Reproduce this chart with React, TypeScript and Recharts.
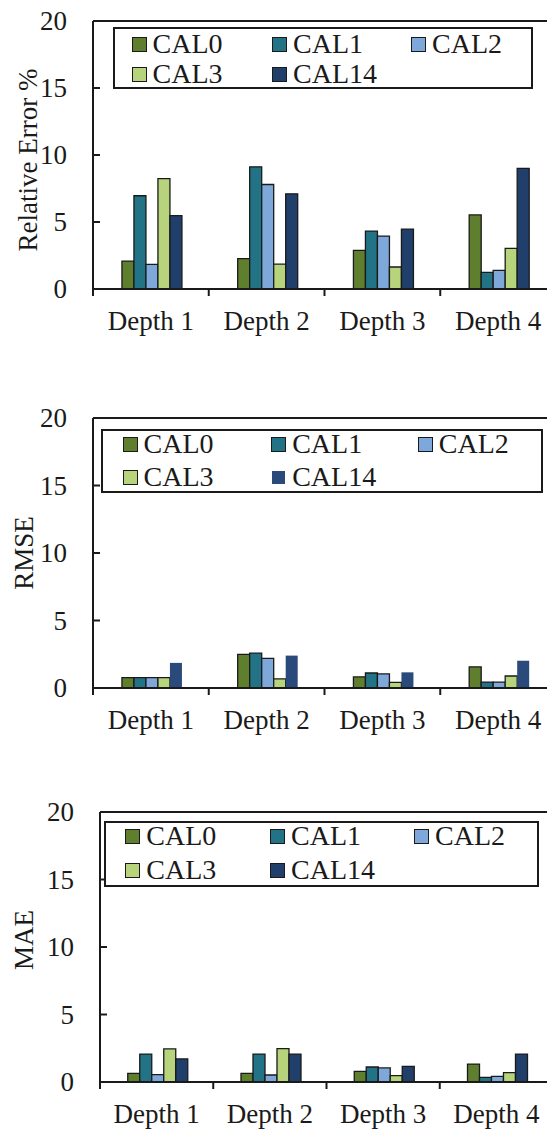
import React from 'react';
import { BarChart, Bar, XAxis, YAxis, Legend, ReferenceLine, Label } from 'recharts';

const categories = ['Depth 1', 'Depth 2', 'Depth 3', 'Depth 4'];
const seriesNames = ['CAL0', 'CAL1', 'CAL2', 'CAL3', 'CAL14'];
const seriesColors = ['#5f7f2f', '#237386', '#7ea8da', '#b7d47d', '#213f6b'];
const yTicks = [0, 5, 10, 15, 20];

// Relative Error %
const relCAL0 = [2.08, 2.26, 2.88, 5.53];
const relCAL1 = [6.96, 9.12, 4.32, 1.24];
const relCAL2 = [1.84, 7.8, 3.95, 1.39];
const relCAL3 = [8.24, 1.85, 1.64, 3.03];
const relCAL14 = [5.47, 7.1, 4.47, 9.0];

// RMSE
const rmseCAL0 = [0.77, 2.49, 0.82, 1.57];
const rmseCAL1 = [0.77, 2.58, 1.11, 0.44];
const rmseCAL2 = [0.77, 2.2, 1.04, 0.44];
const rmseCAL3 = [0.77, 0.68, 0.42, 0.89];
const rmseCAL14 = [1.86, 2.4, 1.16, 2.02];

// MAE
const maeCAL0 = [0.64, 0.64, 0.79, 1.33];
const maeCAL1 = [2.07, 2.07, 1.11, 0.35];
const maeCAL2 = [0.55, 0.52, 1.04, 0.42];
const maeCAL3 = [2.45, 2.47, 0.47, 0.69];
const maeCAL14 = [1.71, 2.07, 1.16, 2.07];

const FONT = '"Liberation Serif", "Times New Roman", serif';
const INK = '#1a1a1a';

function buildRows(values: number[][]) {
  return categories.map((c, i) => {
    const row: Record<string, any> = { category: c };
    seriesNames.forEach((s, j) => {
      row[s] = values[j][i];
    });
    return row;
  });
}

type PanelCfg = {
  top: number;
  height: number;
  yAxisWidth: number;
  marginTop: number;
  marginRight: number;
  xAxisHeight: number;
  band: number;
  gap: string;
  title: string;
  titleX: number;
  titleY: number;
  legend: { left: number; top: number; width: number; height: number; cols: number[]; rows: number[] };
  noStroke: string[];
  data: Record<string, any>[];
};

const W = 560;

function Panel({ cfg }: { cfg: PanelCfg }) {
  const YTick = (props: any) => {
    const { x, y, payload } = props;
    return (
      <g>
        <text x={x} y={y} dy="0.35em" textAnchor="end" fill={INK} style={{ fontFamily: FONT, fontSize: 27 }}>
          {payload.value}
        </text>
        <line x1={x + 26} x2={x + 33} y1={y} y2={y} stroke={INK} strokeWidth={2} />
      </g>
    );
  };
  const XTick = (props: any) => {
    const { x, y, payload } = props;
    const bx = x - cfg.band / 2;
    return (
      <g>
        <line x1={bx} x2={bx} y1={y - 22} y2={y - 15} stroke={INK} strokeWidth={2} />
        <text x={x} y={y} dy="0.71em" textAnchor="middle" fill={INK} style={{ fontFamily: FONT, fontSize: 27 }}>
          {payload.value}
        </text>
      </g>
    );
  };
  const lg = cfg.legend;
  const renderLegend = (props: any) => {
    const raw = props.payload || [];
    const payload = seriesNames
      .map((n) => raw.find((p: any) => String(p.value) === n))
      .filter(Boolean);
    return (
      <div
        style={{
          position: 'relative',
          width: lg.width,
          height: lg.height,
          border: `2px solid ${INK}`,
          boxSizing: 'border-box',
          background: '#fff',
          fontFamily: FONT,
        }}
      >
        {payload.map((p: any, i: number) => {
          const col = i % 3;
          const row = Math.floor(i / 3);
          const noStroke = cfg.noStroke.includes(String(p.value));
          const size = noStroke ? 13 : 15;
          return (
            <div
              key={i}
              style={{
                position: 'absolute',
                left: lg.cols[col] - 2,
                top: lg.rows[row] - 2 - 17,
                height: 34,
                display: 'flex',
                alignItems: 'center',
                whiteSpace: 'nowrap',
              }}
            >
              <div
                style={{
                  width: size,
                  height: size,
                  background: p.color,
                  border: noStroke ? 'none' : `1.5px solid ${INK}`,
                  boxSizing: 'border-box',
                  marginLeft: noStroke ? 1 : 0,
                  marginRight: noStroke ? 7 : 6,
                }}
              />
              <span style={{ fontSize: 28, color: INK, lineHeight: '34px', fontFamily: FONT }}>{p.value}</span>
            </div>
          );
        })}
      </div>
    );
  };

  return (
    <div style={{ position: 'absolute', left: 0, top: cfg.top, width: W, height: cfg.height }}>
      <BarChart
        width={W}
        height={cfg.height}
        data={cfg.data}
        margin={{ top: cfg.marginTop, right: cfg.marginRight, left: 0, bottom: 0 }}
        barCategoryGap={cfg.gap}
        barGap={0}
      >
        <XAxis
          dataKey="category"
          height={cfg.xAxisHeight}
          axisLine={{ stroke: INK, strokeWidth: 2 }}
          tickLine={false}
          tickSize={0}
          tickMargin={22}
          tick={XTick}
          interval={0}
        />
        <YAxis
          width={cfg.yAxisWidth}
          domain={[0, 20]}
          ticks={yTicks}
          interval={0}
          axisLine={{ stroke: INK, strokeWidth: 2 }}
          tickLine={false}
          tickSize={0}
          tickMargin={26}
          tick={YTick}
        >
          <Label
            content={() => (
              <text
                x={cfg.titleX}
                y={cfg.titleY}
                transform={`rotate(-90, ${cfg.titleX}, ${cfg.titleY})`}
                textAnchor="middle"
                dominantBaseline="central"
                fill={INK}
                style={{ fontFamily: FONT, fontSize: 27 }}
              >
                {cfg.title}
              </text>
            )}
          />
        </YAxis>
        <ReferenceLine y={20} stroke={INK} strokeWidth={2} ifOverflow="visible" />
        <Legend
          layout="vertical"
          align="center"
          verticalAlign="middle"
          content={renderLegend}
          wrapperStyle={{ left: lg.left, top: lg.top, width: lg.width, height: lg.height, right: 'auto', bottom: 'auto' }}
        />
        {seriesNames.map((s, i) => (
          <Bar
            key={s}
            dataKey={s}
            name={s}
            fill={cfg.noStroke.includes(s) ? '#2a4a7c' : seriesColors[i]}
            stroke={cfg.noStroke.includes(s) ? 'none' : INK}
            strokeWidth={1.3}
            isAnimationActive={false}
          />
        ))}
      </BarChart>
    </div>
  );
}

const panels: PanelCfg[] = [
  {
    top: 0,
    height: 340,
    yAxisWidth: 93,
    marginTop: 21,
    marginRight: 4,
    xAxisHeight: 51,
    band: 115.75,
    gap: '25%',
    title: 'Relative Error %',
    titleX: 28,
    titleY: 160,
    legend: { left: 113, top: 27, width: 420, height: 62, cols: [18.5, 159, 298], rows: [17, 47] },
    noStroke: [],
    data: buildRows([relCAL0, relCAL1, relCAL2, relCAL3, relCAL14]),
  },
  {
    top: 380,
    height: 370,
    yAxisWidth: 93,
    marginTop: 38,
    marginRight: 4,
    xAxisHeight: 62,
    band: 115.75,
    gap: '25%',
    title: 'RMSE',
    titleX: 24,
    titleY: 173,
    legend: { left: 101, top: 49, width: 442, height: 64, cols: [21.6, 170.2, 316.8], rows: [15, 48] },
    noStroke: ['CAL14'],
    data: buildRows([rmseCAL0, rmseCAL1, rmseCAL2, rmseCAL3, rmseCAL14]),
  },
  {
    top: 780,
    height: 350,
    yAxisWidth: 100,
    marginTop: 32,
    marginRight: 7,
    xAxisHeight: 48,
    band: 113.25,
    gap: '24.5%',
    title: 'MAE',
    titleX: 24,
    titleY: 160,
    legend: { left: 104, top: 41, width: 435, height: 66, cols: [21.3, 166, 310], rows: [15.3, 49.3] },
    noStroke: [],
    data: buildRows([maeCAL0, maeCAL1, maeCAL2, maeCAL3, maeCAL14]),
  },
];

export default function App() {
  return (
    <div
      style={{
        position: 'absolute',
        left: 0,
        top: 0,
        width: 547,
        height: 1130,
        overflow: 'hidden',
        background: '#fff',
        fontFamily: FONT,
      }}
    >
      {panels.map((p, i) => (
        <Panel key={i} cfg={p} />
      ))}
    </div>
  );
}
